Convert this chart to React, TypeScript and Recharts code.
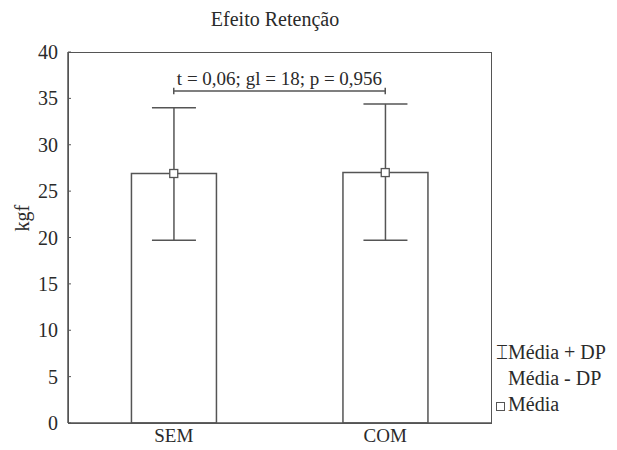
import { ComposedChart, Bar, ErrorBar, Scatter, XAxis, YAxis, ReferenceLine } from 'recharts'

const categories = ['SEM', 'COM']
const means = [26.9, 27.0]
const lower = [19.7, 19.7]
const upper = [34.0, 34.4]
const yTicks = [0, 5, 10, 15, 20, 25, 30, 35, 40]
const testLabel = 't = 0,06; gl = 18; p = 0,956'
const bracketY = 35.8
const legendItems = ['Média + DP', 'Média - DP', 'Média']

const FONT = '"Liberation Serif", "Times New Roman", serif'
const INK = '#555'
const TEXT = '#2a2a2a'

const data = categories.map((name, i) => ({
  name,
  mean: means[i],
  err: [means[i] - lower[i], upper[i] - means[i]],
}))

const LeftTick = (props: any) => {
  const { x, y, payload } = props
  return (
    <g>
      <line x1={68} x2={71} y1={y} y2={y} stroke={INK} />
      <text x={x} y={y} dy={7} textAnchor="end" fontSize={20} fill={TEXT} fontFamily={FONT}>
        {payload.value}
      </text>
    </g>
  )
}

const BottomTick = (props: any) => {
  const { x, y, payload } = props
  return (
    <text x={x} y={y} dy={17} textAnchor="middle" fontSize={19} fill={TEXT} fontFamily={FONT}>
      {payload.value}
    </text>
  )
}

const RightTick = (props: any) => {
  const { y } = props
  return <line x1={488} x2={491} y1={y} y2={y} stroke={INK} />
}

const Square = (props: any) => {
  const { cx, cy } = props
  return <rect x={cx - 4} y={cy - 4} width={8} height={8} fill="#fff" stroke={INK} strokeWidth={1.3} />
}

export default function App() {
  return (
    <div style={{ position: 'absolute', left: 0, top: 0, width: 617, height: 450, background: '#fff', fontFamily: FONT }}>
      <div
        style={{
          position: 'absolute',
          left: 155,
          width: 240,
          top: 8,
          textAlign: 'center',
          fontSize: 20,
          color: TEXT,
        }}
      >
        Efeito Retenção
      </div>
      <div
        style={{
          position: 'absolute',
          left: 68,
          top: 52,
          width: 422,
          height: 370,
          border: `1.5px solid ${INK}`,
          boxSizing: 'content-box',
          pointerEvents: 'none',
        }}
      />
      <ComposedChart
        width={617}
        height={450}
        data={data}
        margin={{ top: 52, right: 125, bottom: 0, left: 0 }}
        barCategoryGap="30%"
        style={{ position: 'absolute', left: 0, top: 0 }}
      >
        <XAxis
          dataKey="name"
          height={27}
          axisLine={{ stroke: INK, strokeWidth: 1.5 }}
          tickLine={false}
          tickSize={0}
          tick={<BottomTick />}
          tickMargin={2}
        />
        <YAxis
          width={68}
          domain={[0, 40]}
          ticks={yTicks}
          interval={0}
          axisLine={{ stroke: INK, strokeWidth: 1.5 }}
          tickLine={false}
          tickSize={0}
          tickMargin={10}
          tick={<LeftTick />}
          label={{ value: 'kgf', angle: -90, position: 'insideLeft', offset: 22, dy: -6, style: { fontSize: 20, fill: TEXT, fontFamily: FONT } }}
        />
        <YAxis
          yAxisId="r"
          orientation="right"
          width={1}
          domain={[0, 40]}
          ticks={yTicks}
          interval={0}
          axisLine={false}
          tickLine={false}
          tick={<RightTick />}
        />
        <Bar dataKey="mean" fill="#fff" stroke={INK} strokeWidth={1.5} isAnimationActive={false}>
          <ErrorBar dataKey="err" width={22} stroke={INK} strokeWidth={1.5} />
        </Bar>
        <Scatter dataKey="mean" shape={<Square />} isAnimationActive={false} />
        <ReferenceLine
          segment={[{ x: 'SEM', y: bracketY }, { x: 'COM', y: bracketY }]}
          stroke={INK}
          strokeWidth={1.5}
          label={{ value: testLabel, position: 'top', offset: 6, style: { fontSize: 19, fill: TEXT, fontFamily: FONT } }}
        />
        <ReferenceLine segment={[{ x: 'SEM', y: bracketY - 0.35 }, { x: 'SEM', y: bracketY + 0.35 }]} stroke={INK} strokeWidth={1.5} />
        <ReferenceLine segment={[{ x: 'COM', y: bracketY - 0.35 }, { x: 'COM', y: bracketY + 0.35 }]} stroke={INK} strokeWidth={1.5} />
      </ComposedChart>
      <div
        style={{
          position: 'absolute',
          left: 496,
          top: 339,
          fontSize: 20,
          color: TEXT,
          lineHeight: '26px',
        }}
      >
        <div>
          <span style={{ display: 'inline-block', width: 12 }}>⌶</span>
          {legendItems[0]}
        </div>
        <div style={{ paddingLeft: 12 }}>{legendItems[1]}</div>
        <div>
          <span
            style={{
              display: 'inline-block',
              width: 7,
              height: 7,
              border: `1px solid ${INK}`,
              marginRight: 3,
            }}
          />
          {legendItems[2]}
        </div>
      </div>
    </div>
  )
}
